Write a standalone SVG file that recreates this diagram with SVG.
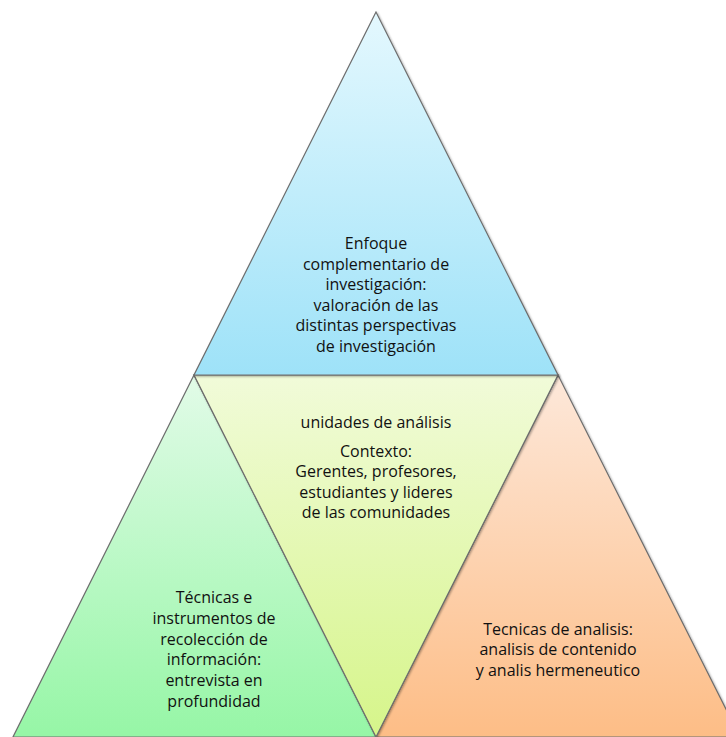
<svg xmlns="http://www.w3.org/2000/svg" width="726" height="737" viewBox="0 0 726 737">
<defs>
<linearGradient id="gTop" x1="0" y1="0" x2="0" y2="1"><stop offset="0" stop-color="#e4f8fe"/><stop offset="1" stop-color="#9ee2f8"/></linearGradient>
<linearGradient id="gMid" x1="0" y1="0" x2="0" y2="1"><stop offset="0" stop-color="#f1fbd9"/><stop offset="1" stop-color="#d6f58a"/></linearGradient>
<linearGradient id="gLeft" x1="0" y1="0" x2="0" y2="1"><stop offset="0" stop-color="#e2fbe8"/><stop offset="1" stop-color="#96f6a6"/></linearGradient>
<linearGradient id="gRight" x1="0" y1="0" x2="0" y2="1"><stop offset="0" stop-color="#fde8da"/><stop offset="1" stop-color="#fdbd86"/></linearGradient>
<filter id="sh" x="-5%" y="-5%" width="110%" height="110%"><feDropShadow dx="1" dy="1" stdDeviation="1" flood-color="#000" flood-opacity="0.35"/></filter>
</defs>
<style>
.tri{stroke:#6e6e6e;stroke-width:1.2;filter:url(#sh)}
text{font-family:"Open Sans","Liberation Sans",Arial,sans-serif;font-size:16px;fill:#111;text-anchor:middle}
</style>
<rect width="726" height="737" fill="#fff"/>
<g id="left"><polygon class="tri" points="194,375 13,737 376,737" fill="url(#gLeft)"/>
<text x="214" y="603">Técnicas e</text><text x="214" y="624">instrumentos de</text><text x="214" y="645">recolección de</text><text x="214" y="665">información:</text><text x="214" y="686">entrevista en</text><text x="214" y="707">profundidad</text></g>
<g id="right"><polygon class="tri" points="558,375 376,737 740,737" fill="url(#gRight)"/>
<text x="558" y="635">Tecnicas de analisis:</text><text x="558" y="655">analisis de contenido</text><text x="558" y="676">y analis hermeneutico</text></g>
<g id="middle"><polygon class="tri" points="194,375 558,375 376,737" fill="url(#gMid)"/>
<text x="376" y="428">unidades de análisis</text><text x="376" y="457">Contexto:</text><text x="376" y="477">Gerentes, profesores,</text><text x="376" y="498">estudiantes y lideres</text><text x="376" y="518">de las comunidades</text></g>
<g id="top"><polygon class="tri" points="376,12 194,375 558,375" fill="url(#gTop)"/>
<text x="376" y="249">Enfoque</text><text x="376" y="270">complementario de</text><text x="376" y="290">investigación:</text><text x="376" y="311">valoración de las</text><text x="376" y="331">distintas perspectivas</text><text x="376" y="352">de investigación</text></g>
<g id="connectors"></g>
</svg>
